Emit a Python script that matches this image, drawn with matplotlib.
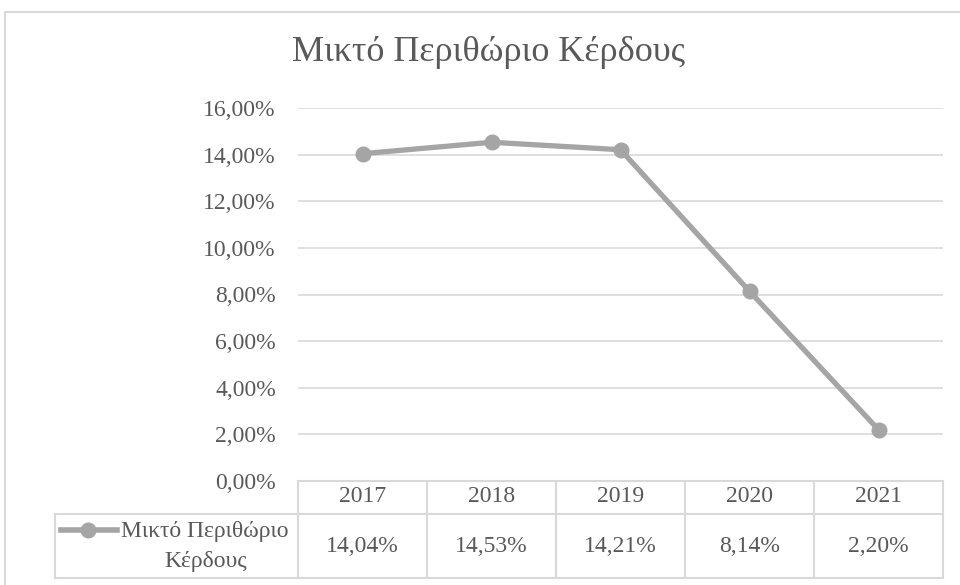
import matplotlib.pyplot as plt
from matplotlib.patches import Rectangle
from matplotlib.lines import Line2D
from matplotlib.ticker import FuncFormatter
from matplotlib.transforms import blended_transform_factory

years = ["2017", "2018", "2019", "2020", "2021"]
margin = [14.04, 14.53, 14.21, 8.14, 2.20]
series_name = "Μικτό Περιθώριο Κέρδους"
y_ticks = [0, 2, 4, 6, 8, 10, 12, 14, 16]

TEXT = "#595959"
GRID = "#d9d9d9"
LINE = "#a5a5a5"
FONT = "Liberation Serif"
FS = 17

plt.rcParams["font.family"] = [FONT, "DejaVu Serif"]

W, H = 960, 585
fig = plt.figure(figsize=(W / 100, H / 100), dpi=100)

# outer chart frame (cut off at right/bottom like the reference)
fig.add_artist(Rectangle((5 / W, -0.1), 1.0, 1 - 12 / H + 0.1, transform=fig.transFigure,
                         fill=False, edgecolor=GRID, linewidth=1.5))

left, right, top, bottom = 298, 943, 108, 481
ax = fig.add_axes([left / W, 1 - bottom / H, (right - left) / W, (bottom - top) / H])

x = list(range(len(years)))
ax.plot(x, margin, color=LINE, linewidth=3.8, marker="o", markersize=10.5,
        markeredgecolor=LINE, zorder=3, solid_capstyle="round")

ax.set_xlim(-0.5, len(years) - 0.5)
ax.set_ylim(0, 16)
ax.set_yticks(y_ticks)
ax.yaxis.set_major_formatter(FuncFormatter(lambda v, p: f"{v:.2f}%".replace(".", ",")))
ax.tick_params(axis="y", length=0, pad=16, labelsize=FS, labelcolor=TEXT)
ax.set_xticks([])
for s in ax.spines.values():
    s.set_visible(False)
ax.grid(axis="y", color=GRID, linewidth=1.2)
ax.set_axisbelow(True)

fig.text(489 / W, 1 - 61 / H, series_name, ha="center", va="baseline",
         fontsize=26, color=TEXT)

# data table under the axis
tr = blended_transform_factory(ax.transData, ax.transAxes)
ax_h = bottom - top
col_w = (right - left) / len(years)
r1 = -(514 - bottom) / ax_h
r2 = -(578 - bottom) / ax_h
leg_left = -0.5 - (left - 55) / col_w
n = len(years)

def seg(xs, ys):
    ax.add_line(Line2D(xs, ys, transform=tr, color=GRID, linewidth=1.5, clip_on=False))

seg([-0.5, n - 0.5], [0, 0])
seg([leg_left, n - 0.5], [r1, r1])
seg([leg_left, n - 0.5], [r2, r2])
seg([leg_left, leg_left], [r1, r2])
for i in range(n + 1):
    seg([i - 0.5, i - 0.5], [0, r2])

for i, (yr, v) in enumerate(zip(years, margin)):
    ax.text(i, -(497 - bottom) / ax_h, yr, transform=tr, ha="center", va="center",
            fontsize=FS, color=TEXT)
    ax.text(i, -(547 - bottom) / ax_h, f"{v:.2f}%".replace(".", ","), transform=tr,
            ha="center", va="center", fontsize=FS, color=TEXT)

# legend key inside the table
ftr = fig.transFigure
fig.add_artist(Line2D([61 / W, 117 / W], [1 - 530 / H] * 2, transform=ftr, color=LINE,
                      linewidth=4))
fig.add_artist(Line2D([88 / W], [1 - 530 / H], transform=ftr, color=LINE, marker="o",
                      markersize=10.5, markeredgecolor=LINE))
fig.text(205 / W, 1 - 532 / H, "Μικτό Περιθώριο", ha="center", va="center",
         fontsize=FS, color=TEXT)
fig.text(206 / W, 1 - 561 / H, "Κέρδους", ha="center", va="center",
         fontsize=FS, color=TEXT)

fig.savefig("out.png", dpi=100)
